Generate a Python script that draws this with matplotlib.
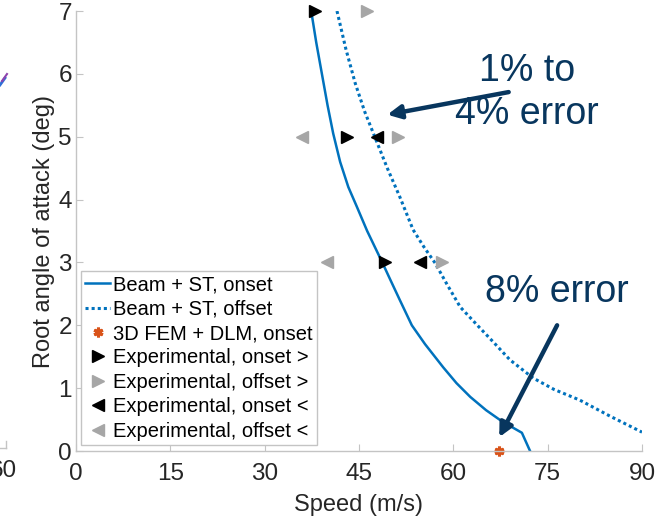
import matplotlib
matplotlib.use('Agg')
import matplotlib.pyplot as plt
from matplotlib.lines import Line2D

plt.rcParams['font.family'] = ['Liberation Sans', 'DejaVu Sans']

# Beam + ST curves
onset_speed = [37.4, 38.2, 39.1, 40.0, 40.9, 42.0, 43.3, 44.6, 46.3, 47.5, 48.7, 50.0,
               51.5, 53.4, 55.5, 58.4, 60.5, 62.7, 65.2, 67.9, 69.5, 70.9, 72.2]
onset_angle = [7.0, 6.5, 6.0, 5.5, 5.05, 4.6, 4.2, 3.9, 3.5, 3.25, 3.0, 2.72,
               2.4, 2.0, 1.7, 1.33, 1.08, 0.86, 0.65, 0.46, 0.37, 0.29, 0.0]
offset_speed = [41.5, 42.9, 44.4, 45.9, 47.5, 49.5, 51.5, 53.6, 55.3, 57.1, 59.0, 61.1,
                64.2, 66.3, 69.0, 72.7, 76.0, 80.1, 85.0, 90.0]
offset_angle = [7.0, 6.4, 5.85, 5.4, 5.0, 4.5, 4.04, 3.52, 3.25, 2.99, 2.65, 2.29,
                1.96, 1.74, 1.45, 1.16, 0.98, 0.81, 0.55, 0.3]

fem_speed = [67.3]
fem_angle = [0.0]

exp_on_gt_speed = [38.0, 43.1, 49.1]
exp_on_gt_angle = [7, 5, 3]
exp_off_gt_speed = [46.3, 51.2, 58.2]
exp_off_gt_angle = [7, 5, 3]
exp_on_lt_speed = [47.9, 54.7]
exp_on_lt_angle = [5, 3]
exp_off_lt_speed = [35.9, 39.9]
exp_off_lt_angle = [5, 3]

xticks = [0, 15, 30, 45, 60, 75, 90]
yticks = [0, 1, 2, 3, 4, 5, 6, 7]

blue = '#0072BD'
orange = '#D95319'
grey = '#A6A6A6'
navy = '#08365E'
axcol = '#C4C4C4'
txtcol = '#262626'

fig = plt.figure(figsize=(6.59, 5.19), dpi=100)
ax = fig.add_axes([76/659, 1-451/519, (642-76)/659, (451-11)/519])

ax.plot(onset_speed, onset_angle, '-', color=blue, lw=1.8, label='Beam + ST, onset')
ax.plot(offset_speed, offset_angle, color=blue, lw=2.2, dashes=(1, 1),
        label='Beam + ST, offset')
ax.plot(fem_speed, fem_angle, ls='none', marker=(6, 2, 0), ms=7, mew=2.2, color=orange,
        label='3D FEM + DLM, onset', clip_on=False)
ax.plot(exp_on_gt_speed, exp_on_gt_angle, ls='none', marker='>', ms=8, color='black',
        label='Experimental, onset >', clip_on=False)
ax.plot(exp_off_gt_speed, exp_off_gt_angle, ls='none', marker='>', ms=8, color=grey,
        label='Experimental, offset >', clip_on=False)
ax.plot(exp_on_lt_speed, exp_on_lt_angle, ls='none', marker='<', ms=8, color='black',
        label='Experimental, onset <', clip_on=False)
ax.plot(exp_off_lt_speed, exp_off_lt_angle, ls='none', marker='<', ms=8, color=grey,
        label='Experimental, offset <', clip_on=False)

ax.set_xlim(0, 90)
ax.set_ylim(0, 7)
ax.set_xticks(xticks)
ax.set_yticks(yticks)
ax.spines['top'].set_visible(False)
ax.spines['right'].set_visible(False)
for s in ['left', 'bottom']:
    ax.spines[s].set_color(axcol)
    ax.spines[s].set_linewidth(1.0)
ax.tick_params(direction='in', length=5, color=axcol, labelsize=17.5, labelcolor=txtcol)
ax.tick_params(axis='x', pad=9)
ax.tick_params(axis='y', pad=3)
ax.set_xlabel('Speed (m/s)', fontsize=17, color=txtcol, labelpad=6)
ax.set_ylabel('Root angle of attack (deg)', fontsize=17, color=txtcol, labelpad=2)

leg = ax.legend(loc='lower left', bbox_to_anchor=(0.009, 0.014), fontsize=14.5,
                frameon=True, fancybox=False, framealpha=1, edgecolor=axcol,
                handlelength=1.25, handletextpad=0.15, labelspacing=0.27,
                borderpad=0.2, borderaxespad=0)
leg.get_frame().set_linewidth(1.0)
for t in leg.get_texts():
    t.set_color('black')

ax.text(71.7, 5.71, '1% to\n4% error', fontsize=27, color=navy, ha='center', va='center',
        linespacing=1.25)
ax.text(76.5, 2.53, '8% error', fontsize=27, color=navy, ha='center', va='center')

arrow = dict(arrowstyle='-|>,head_length=0.8,head_width=0.4', color=navy, lw=3.2,
             shrinkA=0, shrinkB=0)
ax.annotate('', xy=(49.5, 5.35), xytext=(68.8, 5.71), arrowprops=arrow)
ax.annotate('', xy=(67.3, 0.22), xytext=(76.5, 2.0), arrowprops=arrow)

# clipped pieces of the neighbouring panel on the left edge
fig.text(17/659, 1-471/519, '60', fontsize=17.5, color=txtcol, ha='right', va='center')
fig.add_artist(Line2D([0, 6/659], [1-448/519, 1-448/519], color=axcol, lw=1))
fig.add_artist(Line2D([6/659, 6/659], [1-448/519, 1-441/519], color=axcol, lw=1))
fig.add_artist(Line2D([0, 5/659], [1-85/519, 1-78/519], color='#2E6FD8', lw=2))
fig.add_artist(Line2D([2/659, 7/659], [1-81/519, 1-74/519], color='#8E44AD', lw=1.5))

fig.savefig('out.png', dpi=100)
